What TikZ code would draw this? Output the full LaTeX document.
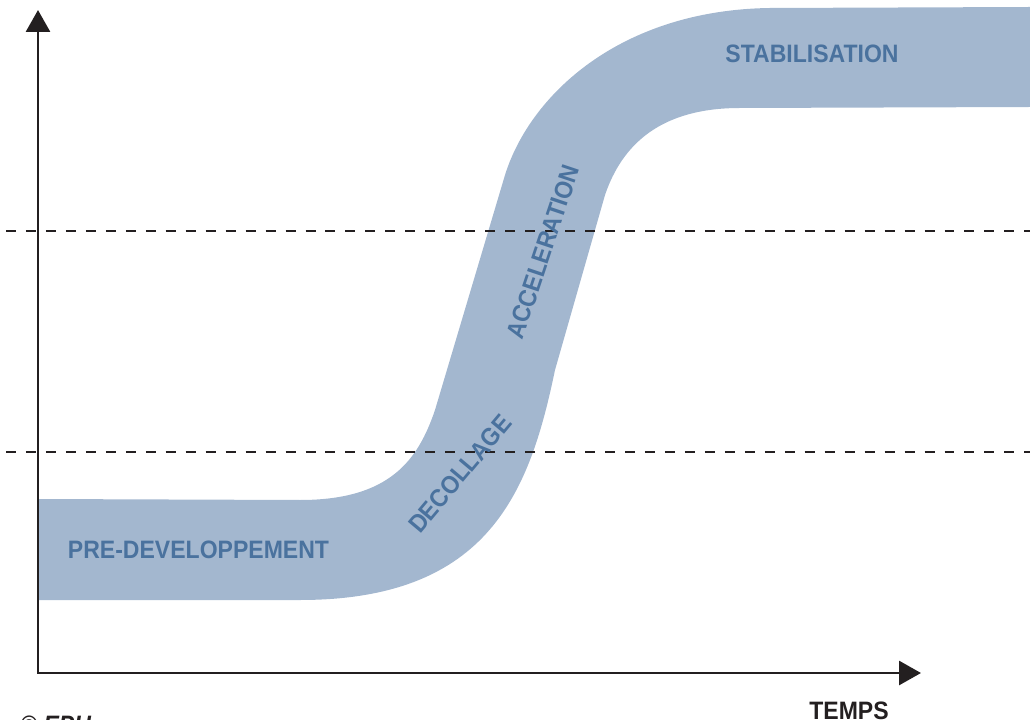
\documentclass[tikz,border=0pt]{standalone}
\usepackage{fontspec}
\usepackage{xcolor}
\usepackage{tikz}
\usetikzlibrary{arrows.meta}

\newfontfamily\lblfont[FakeStretch=0.915]{Liberation Sans}
\definecolor{bandblue}{RGB}{163,183,207}
\definecolor{phaseblue}{RGB}{74,114,158}
\definecolor{axisdark}{RGB}{35,31,32}

\begin{document}
\begin{tikzpicture}[
        x=0.025cm, y=-0.025cm,
        band/.style={fill=bandblue, draw=none},
        phase/.style={text=phaseblue, inner sep=0pt, font=\lblfont\bfseries\fontsize{17.9}{20}\selectfont},
        axislabel/.style={text=axisdark, inner sep=0pt, font=\lblfont\bfseries\fontsize{17.9}{20}\selectfont},
        axis/.style={draw=axisdark, line width=2.1pt, {Triangle[length=15.6pt,width=17pt]}-{Triangle[length=15.6pt,width=17pt]}},
        level/.style={draw=axisdark, line width=0.9pt, dash pattern=on 7.1pt off 7.1pt}
    ]
        \useasboundingbox (0,0) rectangle (1030,720);

        % S-curve band
        \path[band] (38,499) -- (300,500)
            .. controls (390,500) and (418,460) .. (435,410)
            -- (505,175)
            .. controls (530,95) and (620,10) .. (770,8)
            -- (1030,7) -- (1030,107) -- (740,108)
            .. controls (660,108) and (622,145) .. (605,195)
            -- (555,370)
            .. controls (530,490) and (490,600) .. (300,600)
            -- (38,600) -- cycle;

        % Threshold levels
        \coordinate (highL) at (6,231);
        \coordinate (highR) at (1030,231);
        \coordinate (lowL) at (6,452);
        \coordinate (lowR) at (1030,452);
        \draw[level] (highL) -- (highR);
        \draw[level] (lowL) -- (lowR);

        % Axes
        \coordinate (origin) at (38,673);
        \coordinate (ytip) at (38,10);
        \coordinate (xtip) at (921,673);
        \draw[axis] (ytip) -- (origin) -- (xtip);

        % Phases
        \node[phase] (predev) at (198.5,550) {PRE-DEVELOPPEMENT};
        \node[phase, rotate=50] (takeoff) at (460,474) {DECOLLAGE};
        \node[phase, rotate=71.5] (accel) at (543,252) {ACCELERATION};
        \node[phase] (stable) at (812,54) {STABILISATION};

        % Labels
        \node[axislabel] (time) at (849,711) {TEMPS};
        \node[axislabel, anchor=base west] (credit) at (20,733) {\itshape © EPH};
    \end{tikzpicture}
\end{document}
